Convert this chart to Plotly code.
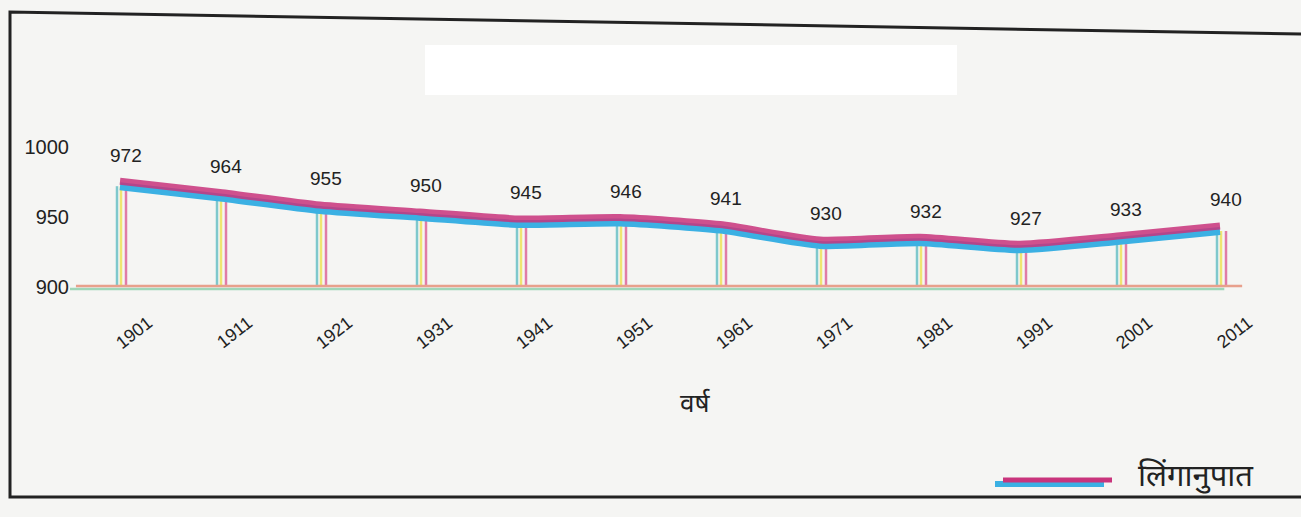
import plotly.graph_objects as go

years = [1901, 1911, 1921, 1931, 1941, 1951, 1961, 1971, 1981, 1991, 2001, 2011]
sex_ratio = [972, 964, 955, 950, 945, 946, 941, 930, 932, 927, 933, 940]
year_labels = [str(y) for y in years]
y_ticks = [900, 950, 1000]
series_name = "लिंगानुपात"
x_title = "वर्ष"

W, H = 1301, 517
BG = "#f5f5f3"
FONT = "Liberation Sans, Arial, Noto Sans, sans-serif"
HFONT = "Noto Sans Devanagari, Lohit Devanagari, Noto Sans, sans-serif"

def px(v):
    return v / W

def py(v):
    return 1 - v / H

ydom = [py(300), py(30)]
yrange = [890.71, 1083.57]
shift = 5 / H

fig = go.Figure()

# cyan underside of the marker-drawn line
fig.add_trace(go.Scatter(x=years, y=sex_ratio, mode="lines",
                         line=dict(color="#3bb0e3", width=8, shape="spline", smoothing=0.6),
                         showlegend=False, hoverinfo="skip"))
# magenta top of the line (slightly higher, as drawn with a second marker)
fig.add_trace(go.Scatter(x=years, y=sex_ratio, yaxis="y2", mode="lines", name=series_name,
                         line=dict(color="#c9347c", width=7, shape="spline", smoothing=0.6),
                         opacity=0.85, showlegend=False))

shapes = []
# drop lines
for yr, v in zip(years, sex_ratio):
    for off, col in [(-3, "#7fc8cc"), (1, "#efe571"), (6, "#e07ca6")]:
        shapes.append(dict(type="line", xref="x", yref="y", xsizemode="pixel", xanchor=yr,
                           x0=off, x1=off, y0=900, y1=v, line=dict(color=col, width=2.5), layer="below"))
# baseline
shapes.append(dict(type="line", xref="x domain", yref="y", ysizemode="pixel", yanchor=900,
                   x0=0.0, x1=0.97, y0=-2, y1=-2, line=dict(color="#9fd6b8", width=2.5)))
shapes.append(dict(type="line", xref="x domain", yref="y", ysizemode="pixel", yanchor=900,
                   x0=0.005, x1=0.985, y0=1, y1=1, line=dict(color="#e8a08c", width=2.5)))
# blank white box
shapes.append(dict(type="rect", xref="paper", yref="paper", x0=px(425), x1=px(957),
                   y0=py(95), y1=py(45), fillcolor="white", line=dict(width=0), layer="below"))
# border
shapes.append(dict(type="path", xref="paper", yref="paper",
                   path=f"M 1.0 {py(34)} L {px(10)} {py(12)} L {px(10)} {py(497)} L 1.0 {py(497)}",
                   line=dict(color="#222222", width=3)))
# legend sample
shapes.append(dict(type="line", xref="paper", yref="paper", x0=px(995), x1=px(1104),
                   y0=py(484), y1=py(484), line=dict(color="#3bb0e3", width=6)))
shapes.append(dict(type="line", xref="paper", yref="paper", x0=px(1003), x1=px(1112),
                   y0=py(480), y1=py(480), line=dict(color="#c9347c", width=5)))

annotations = []
for yr, v in zip(years, sex_ratio):
    annotations.append(dict(x=yr, y=v, xref="x", yref="y", text=str(v), showarrow=False,
                            xanchor="center", yanchor="middle",
                            yshift=31, xshift=6, font=dict(family=FONT, size=19, color="#222")))
annotations.append(dict(x=px(695), y=py(405), xref="paper", yref="paper", text=x_title,
                        showarrow=False, xanchor="center", yanchor="middle",
                        font=dict(family=HFONT, size=26, color="#222")))
annotations.append(dict(x=px(1136), y=py(478), xref="paper", yref="paper", text=series_name,
                        showarrow=False, xanchor="left", yanchor="middle",
                        font=dict(family=HFONT, size=31, color="#222")))

fig.update_layout(
    width=W, height=H,
    margin=dict(l=0, r=0, t=0, b=0),
    paper_bgcolor=BG, plot_bgcolor="rgba(0,0,0,0)",
    showlegend=False,
    xaxis=dict(domain=[px(70), px(1260)], range=[1896.0, 2015.0], showgrid=False,
               zeroline=False, showline=False, ticks="", tickvals=years, ticktext=year_labels,
               tickangle=-38, ticklabelshift=28, ticklabelstandoff=8,
               tickfont=dict(family=FONT, size=18, color="#222"), automargin=False),
    yaxis=dict(domain=ydom, range=yrange, showgrid=False, zeroline=False, showline=False,
               ticks="", tickvals=y_ticks, ticktext=[str(t) for t in y_ticks],
               tickfont=dict(family=FONT, size=20, color="#222"), automargin=False),
    yaxis2=dict(domain=[ydom[0] + shift, ydom[1] + shift], range=yrange, anchor="x",
                visible=False),
    shapes=shapes,
    annotations=annotations,
)

fig.write_html("out.html", config={"displayModeBar": False},
               post_script="document.body.style.margin='0';")
